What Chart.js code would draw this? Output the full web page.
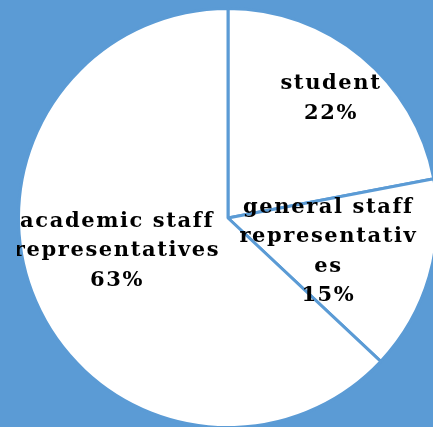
<!DOCTYPE html>
<html>
<head>
<meta charset="utf-8">
<script src="https://cdn.jsdelivr.net/npm/chart.js@4"></script>
<style>
  html, body { margin: 0; padding: 0; background: #5b9bd5; overflow: hidden; width: 433px; height: 427px; }
  #wrap { position: absolute; left: 17px; top: 7px; width: 422px; height: 422px; }
</style>
</head>
<body>
<div id="wrap"><canvas id="piechart"></canvas></div>
<script>
var categories = ["student", "general staff representatives", "academic staff representatives"];
var values = [22, 15, 63];
// how the labels wrap in the picture
var labelLines = [["student"], ["general staff", "representativ", "es"], ["academic staff", "representatives"]];

var sliceLabels = {
  id: 'sliceLabels',
  afterDatasetsDraw: function(chart, args, opts) {
    var ctx = chart.ctx;
    var total = values.reduce(function(a, b) { return a + b; }, 0);
    chart.getDatasetMeta(0).data.forEach(function(arc, i) {
      var p = arc.getProps(['x', 'y', 'startAngle', 'endAngle', 'outerRadius'], true);
      var mid = (p.startAngle + p.endAngle) / 2;
      var r = p.outerRadius * opts.radius[i];
      var cx = p.x + Math.cos(mid) * r + opts.shift[i][0];
      var cy = p.y + Math.sin(mid) * r + opts.shift[i][1];
      var lines = labelLines[i].concat([Math.round(values[i] / total * 100) + "%"]);
      ctx.save();
      ctx.font = "bold 21px 'DejaVu Serif'";
      ctx.letterSpacing = "1.6px";
      ctx.fillStyle = "#000";
      ctx.textAlign = "center";
      ctx.textBaseline = "middle";
      var lh = 29.5;
      var y0 = cy - (lines.length - 1) * lh / 2;
      lines.forEach(function(t, j) { ctx.fillText(t, cx + 0.8, y0 + j * lh); });
      ctx.restore();
    });
  }
};

new Chart(document.getElementById("piechart"), {
  type: 'pie',
  data: {
    labels: categories,
    datasets: [{
      data: values,
      backgroundColor: "#ffffff",
      borderColor: "#5b9bd5",
      borderWidth: 3
    }]
  },
  options: {
    responsive: true,
    maintainAspectRatio: false,
    animation: false,
    layout: { padding: 0 },
    plugins: {
      legend: { display: false },
      tooltip: { enabled: false },
      sliceLabels: { radius: [0.72, 0.49, 0.55], shift: [[6, -3], [1, 5], [-6, -13]] }
    }
  },
  plugins: [sliceLabels]
});
</script>
</body>
</html>
